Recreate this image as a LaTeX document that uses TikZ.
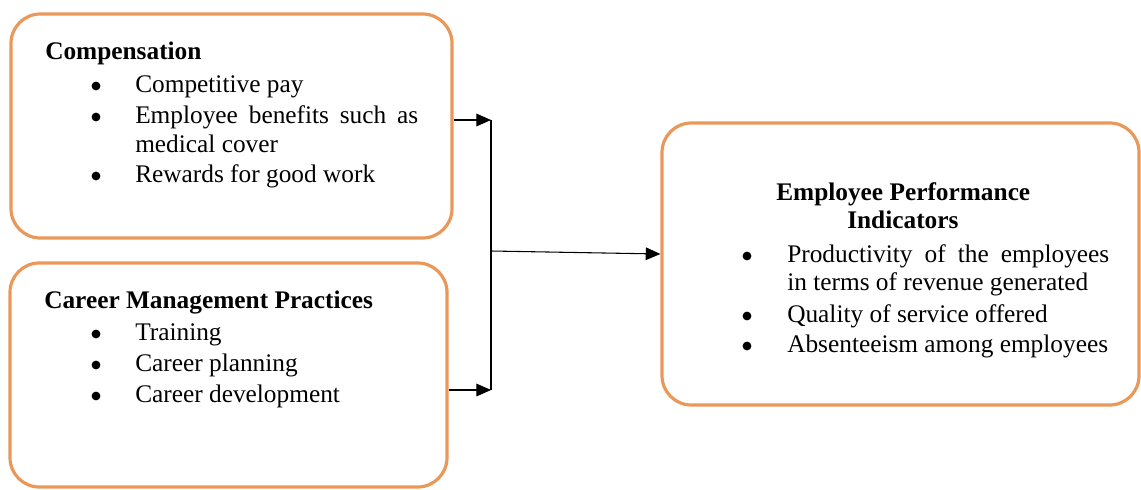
\documentclass[tikz,border=0pt]{standalone}
\usepackage{fontspec}
\setmainfont{Liberation Serif}
\usetikzlibrary{arrows.meta}
\definecolor{boxline}{RGB}{234,152,90}
\tikzset{
  panel/.style={draw=boxline, line width=2.4pt, rounded corners=22pt, fill=white},
  txt/.style={anchor=base west, inner sep=0pt, font=\fontsize{19}{22}\selectfont},
  head/.style={txt, font=\fontsize{19}{22}\selectfont\bfseries},
  dot/.style={circle, fill=black, inner sep=0pt, minimum size=6.6pt},
  link/.style={line width=0.8pt, -{Triangle[length=11pt,width=9.5pt]}},
  bar/.style={line width=0.8pt}
}
\begin{document}
\begin{tikzpicture}[x=0.75pt,y=-0.75pt]
\useasboundingbox (0,0) rectangle (1141,489);

% the three panels
\node[panel, minimum width=330.75pt, minimum height=168pt] (comp) at (231.5,126) {};
\node[panel, minimum width=327.75pt, minimum height=168pt] (career) at (228.5,375) {};
\node[panel, minimum width=357.75pt, minimum height=211.5pt] (perf) at (900.5,264) {};

% Compensation
\node[head] (compH) at (45,59) {Compensation};
\node[dot] (cb1) at (96,86) {};
\node[txt] (ct1) at (135,92) {Competitive pay};
\node[dot] (cb2) at (96,117) {};
\node[txt] (ct2) at (135,123) {\makebox[212.25pt][s]{Employee benefits such as}};
\node[txt] (ct3) at (135,152) {medical cover};
\node[dot] (cb3) at (96,176) {};
\node[txt] (ct4) at (135,182) {Rewards for good work};

% Career management
\node[head] (carH) at (44,308) {Career Management Practices};
\node[dot] (kb1) at (96,334) {};
\node[txt] (kt1) at (135,340) {Training};
\node[dot] (kb2) at (96,365) {};
\node[txt] (kt2) at (135,371) {Career planning};
\node[dot] (kb3) at (96,396) {};
\node[txt] (kt3) at (135,402) {Career development};

% Employee performance indicators
\node[head] (perfH1) at (776,200) {Employee Performance};
\node[head] (perfH2) at (847,228) {Indicators};
\node[dot] (pb1) at (747,256) {};
\node[txt] (pt1) at (787,262) {\makebox[241.5pt][s]{Productivity of the employees}};
\node[txt] (pt2) at (787,290) {in terms of revenue generated};
\node[dot] (pb2) at (747,316) {};
\node[txt] (pt3) at (787,322) {Quality of service offered};
\node[dot] (pb3) at (747,346) {};
\node[txt] (pt4) at (787,352) {Absenteeism among employees};

% connectors
\coordinate (jTop) at (491,120);
\coordinate (jMid) at (491,251);
\coordinate (jBot) at (491,390);
\draw[link] (comp.east |- jTop) -- (jTop);
\draw[link] (career.east |- jBot) -- (jBot);
\draw[bar] (jTop) -- (jBot);
\draw[link] (jMid) -- (perf.west |- 0,254);
\end{tikzpicture}
\end{document}
